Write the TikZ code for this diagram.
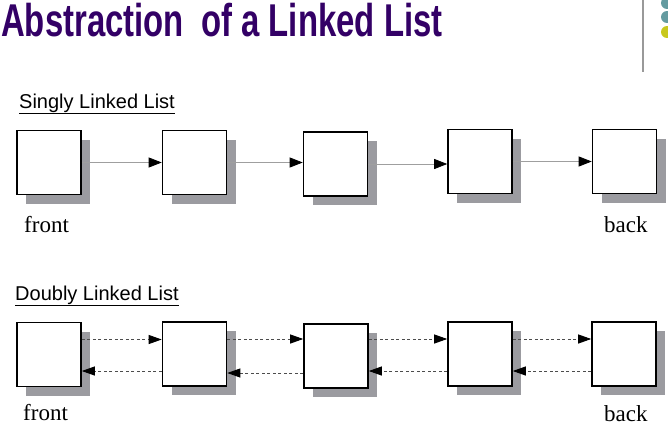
\documentclass[tikz,border=0pt]{standalone}
\usepackage{fontspec}
\setmainfont{Liberation Serif}
\setsansfont{Liberation Sans}
\usetikzlibrary{arrows.meta,shadows}

\definecolor{titlecolor}{RGB}{51,0,102}
\definecolor{shadowgray}{RGB}{155,155,160}
\definecolor{dotteal}{RGB}{100,155,160}
\definecolor{dotyellow}{RGB}{200,200,30}

\begin{document}
\begin{tikzpicture}[x=1pt, y=-1pt,
  listbox/.style={draw=black, line width=1.6pt, fill=white, minimum size=64pt, inner sep=0pt,
    drop shadow={shadow xshift=9pt, shadow yshift=-9pt, fill=shadowgray, opacity=1}},
  nextlink/.style={draw=gray!75, line width=0.8pt, -{Triangle[length=13pt, width=10pt, color=black]}},
  dlink/.style={draw=black!70, line width=0.9pt, dash pattern=on 3pt off 2.5pt, -{Triangle[length=13pt, width=9pt, color=black]}},
  listlabel/.style={font=\sffamily\fontsize{20}{20}\selectfont, anchor=base west, inner sep=0pt},
  endlabel/.style={font=\fontsize{23}{23}\selectfont, anchor=base west, inner sep=0pt}]
\def\titlefontsize{\fontsize{46}{46}\selectfont}
\def\fwdshift{15pt}
\def\backshift{-17pt}

\useasboundingbox (0,0) rectangle (668,441);

% TITLE
\node[anchor=base west, inner sep=0pt, text=titlecolor, font=\sffamily\bfseries\titlefontsize] (title) at (1,37)
  {\scalebox{0.715}[1]{Abstraction\hspace{0.25em} of a Linked List}};
\draw[color=gray!80, line width=1.5pt] (643,0) -- (643,72);
\fill[dotteal] (667,3) circle (6);
\fill[dotteal] (667,17) circle (6);
\fill[dotyellow] (667,32) circle (6);

\begin{scope} % SINGLY LINKED LIST
\node[listlabel] (slabel) at (19,108) {\underline{Singly Linked List}};

\node[listbox] (s1) at (49,162.5) {};
\node[listbox] (s2) at (194.5,162.5) {};
\node[listbox] (s3) at (335.5,164) {};
\node[listbox] (s4) at (480,161.5) {};
\node[listbox] (s5) at (624.5,161.5) {};

\draw[nextlink] (s1.east) -- (s1.east -| s2.west);
\draw[nextlink] (s2.east) -- (s2.east -| s3.west);
\draw[nextlink] (s3.east) -- (s3.east -| s4.west);
\draw[nextlink] (s4.east) -- (s4.east -| s5.west);

\node[endlabel] (sfront) at (24,232) {front};
\node[endlabel] (sback) at (604,232) {back};
\end{scope}

\begin{scope} % DOUBLY LINKED LIST
\node[listlabel] (dlabel) at (15,300) {\underline{Doubly Linked List}};

\node[listbox] (d1) at (49,354.5) {};
\node[listbox] (d2) at (194.5,354) {};
\node[listbox] (d3) at (336,356) {};
\node[listbox] (d4) at (480,354) {};
\node[listbox] (d5) at (624,354) {};

\draw[dlink] ([yshift=\fwdshift]d1.east) -- ([yshift=\fwdshift]d1.east -| d2.west);
\draw[dlink] ([yshift=\fwdshift]d2.east) -- ([yshift=\fwdshift]d2.east -| d3.west);
\draw[dlink] ([yshift=\fwdshift]d4.west -| d3.east) -- ([yshift=\fwdshift]d4.west);
\draw[dlink] ([yshift=\fwdshift]d4.east) -- ([yshift=\fwdshift]d4.east -| d5.west);

\draw[dlink] ([yshift=\backshift]d2.west) -- ([yshift=\backshift]d2.west -| d1.east);
\draw[dlink] ([yshift=\backshift]d3.west) -- ([yshift=\backshift]d3.west -| d2.east);
\draw[dlink] ([yshift=\backshift]d4.west) -- ([yshift=\backshift]d4.west -| d3.east);
\draw[dlink] ([yshift=\backshift]d5.west) -- ([yshift=\backshift]d5.west -| d4.east);

\node[endlabel] (dfront) at (23,420) {front};
\node[endlabel] (dback) at (604,421) {back};
\end{scope}
\end{tikzpicture}
\end{document}
